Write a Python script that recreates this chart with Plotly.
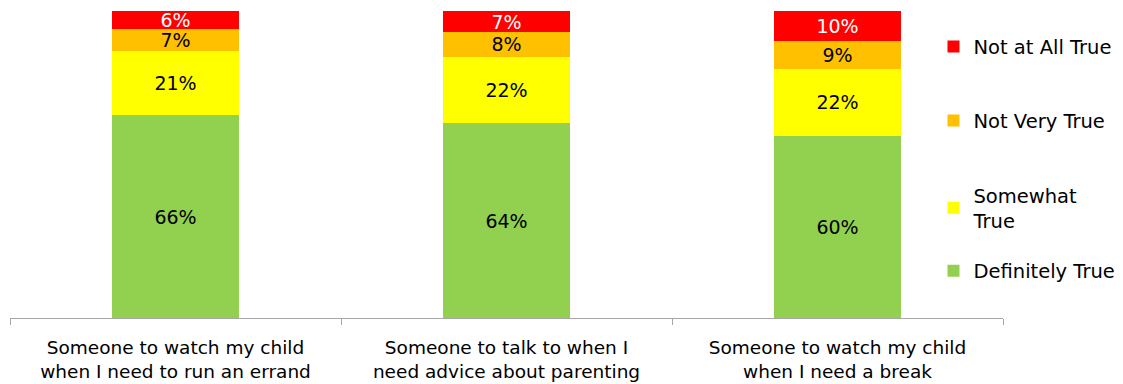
import plotly.graph_objects as go

categories = [
    "Someone to watch my child<br>when I need to run an errand",
    "Someone to talk to when I<br>need advice about parenting",
    "Someone to watch my child<br>when I need a break",
]
definitely_true = [66, 64, 60]
somewhat_true = [21, 22, 22]
not_very_true = [7, 8, 9]
not_at_all_true = [6, 7, 10]

# name, values, fill colour, label colour, legend id, legend centre (paper y)
series = [
    ("Definitely True", definitely_true, "#92D050", "#000000", "legend4", 0.153),
    ("Somewhat<br>True", somewhat_true, "#FFFF00", "#000000", "legend3", 0.359),
    ("Not Very True", not_very_true, "#FFC000", "#000000", "legend2", 0.642),
    ("Not at All True", not_at_all_true, "#FF0000", "#FFFFFF", "legend", 0.883),
]

FONT = "DejaVu Sans"
LEGEND_X = 0.930

fig = go.Figure()
legends = {}
for name, vals, color, txtcolor, leg, ly in series:
    fig.add_trace(go.Bar(
        name=name,
        x=categories,
        y=vals,
        text=[f"{v}%" for v in vals],
        textposition="inside",
        insidetextanchor="middle",
        constraintext="none",
        textfont=dict(family=FONT, size=19, color=txtcolor),
        marker=dict(color=color, line=dict(width=0)),
        width=0.384,
        legend=leg,
        hoverinfo="skip",
    ))
    legends[leg] = dict(
        x=LEGEND_X,
        xanchor="left",
        y=ly,
        yanchor="middle",
        font=dict(family=FONT, size=19.5, color="#000000"),
        bgcolor="rgba(0,0,0,0)",
        itemclick=False,
        itemdoubleclick=False,
    )

fig.update_layout(
    width=1123,
    height=384,
    barmode="stack",
    barnorm="percent",
    margin=dict(l=10, r=120, t=11, b=66, autoexpand=False),
    paper_bgcolor="white",
    plot_bgcolor="white",
    font=dict(family=FONT, size=18.5, color="#000000"),
    showlegend=True,
    **legends,
)

fig.update_xaxes(
    type="category",
    showline=True,
    linecolor="#A6A6A6",
    linewidth=1,
    ticks="outside",
    tickson="boundaries",
    tickcolor="#A6A6A6",
    ticklen=6,
    ticklabelstandoff=13,
    tickfont=dict(family=FONT, size=18.5, color="#000000"),
    showgrid=False,
)
fig.update_yaxes(
    range=[0, 100],
    visible=False,
    showgrid=False,
    zeroline=False,
)

fig.write_html("out.html")
